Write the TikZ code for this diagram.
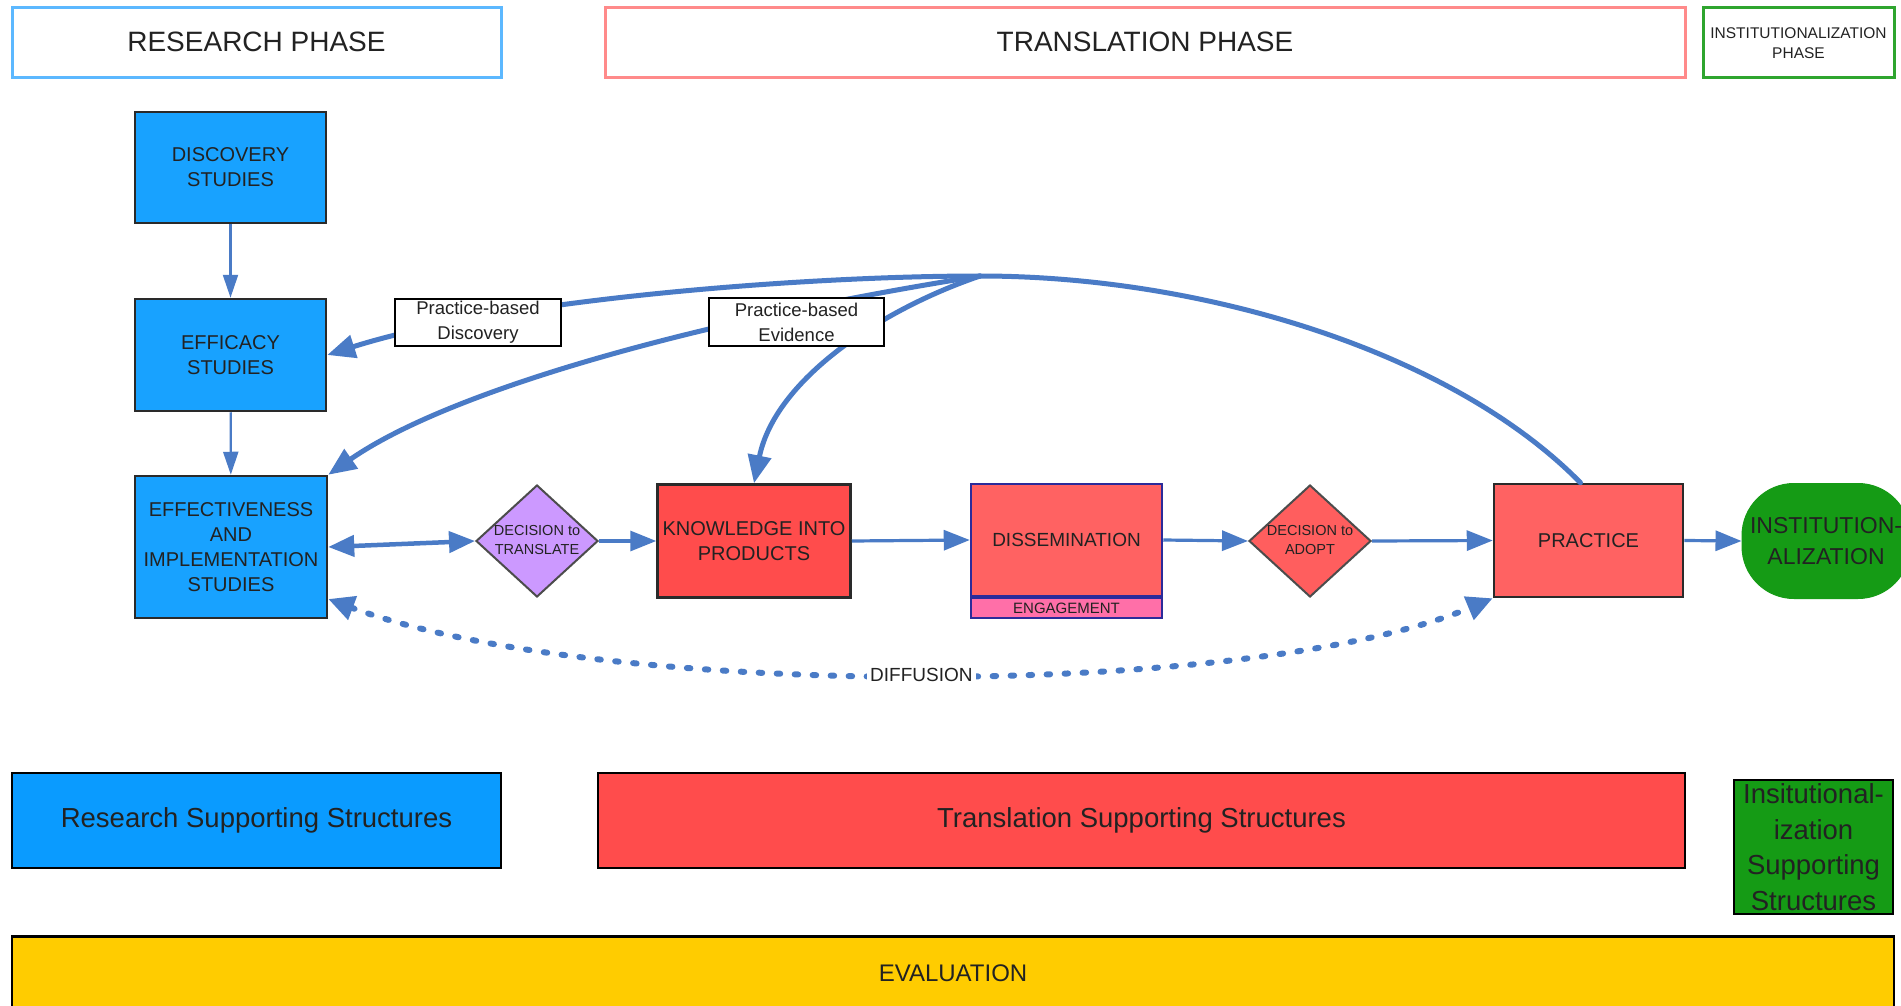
\documentclass[tikz,border=0pt]{standalone}
\usepackage{fontspec}
\setmainfont{Liberation Sans}
\usetikzlibrary{arrows.meta,shapes.geometric,calc}
\definecolor{arrowc}{HTML}{4A7BC6}
\definecolor{procblue}{HTML}{18A2FF}
\definecolor{supblue}{HTML}{0A9BFF}
\definecolor{kred}{HTML}{FF4C4C}
\definecolor{lred}{HTML}{FF6262}
\definecolor{engpink}{HTML}{FF6FA8}
\definecolor{lav}{HTML}{CC99FF}
\definecolor{igreen}{HTML}{159B15}
\definecolor{gold}{HTML}{FFCC00}
\definecolor{hblue}{HTML}{5CB8FF}
\definecolor{hred}{HTML}{FF8A8A}
\definecolor{hgreen}{HTML}{2FA52F}
\definecolor{txt}{HTML}{222222}
\definecolor{edge}{HTML}{2A2A2A}
\definecolor{navy}{HTML}{2B2B9A}
\newcommand\myfs[2]{\fontsize{#1}{#2}\selectfont}
\begin{document}
\begin{tikzpicture}[x=1pt,y=-1pt,
 hdr/.style={draw, line width=3pt, fill=white, text=txt, inner sep=0pt, align=center},
 proc/.style={draw=edge, line width=2.5pt, text=txt, inner sep=0pt, align=center, font=\myfs{20}{25}},
 dec/.style={diamond, draw=gray!60!black, line width=2pt, inner sep=0pt, minimum width=122pt, minimum height=112pt, text=txt, font=\myfs{14.5}{19}},
 flow/.style={draw=arrowc, line width=3.2pt, -{Triangle[length=26pt,width=20pt]}},
 thinflow/.style={draw=arrowc, line width=2.2pt, -{Triangle[length=23pt,width=15pt]}},
 bigflow/.style={draw=arrowc, line width=5pt, line cap=round, -{Triangle[length=28pt,width=23pt]}},
 lbl/.style={draw=black, fill=white, line width=2pt, inner sep=0pt, align=center, text=txt, font=\myfs{18.5}{25}},
 sup/.style={draw=black, line width=2.5pt, inner sep=0pt, align=center, text=txt}
]
\fill[white] (0,0) rectangle (1901,1006);
\useasboundingbox (0,0) rectangle (1901,1006);

% phase headers
\node[hdr, draw=hblue, minimum width=489pt, minimum height=70pt, font=\myfs{28}{32}] (hres) at (256.5,43) {\raisebox{3pt}{RESEARCH PHASE}};
\node[hdr, draw=hred, minimum width=1080pt, minimum height=70pt, font=\myfs{28}{32}] (htr) at (1145,43) {\raisebox{3pt}{TRANSLATION PHASE}};
\node[hdr, draw=hgreen, minimum width=191pt, minimum height=70pt, font=\myfs{15.5}{20}] (hins) at (1798.5,43) {INSTITUTIONALIZATION\\PHASE};

% process nodes
\node[proc, fill=procblue, minimum width=191pt, minimum height=111pt] (disc) at (230.5,167.5) {DISCOVERY\\STUDIES};
\node[proc, fill=procblue, minimum width=191pt, minimum height=112pt] (effi) at (230.5,355) {EFFICACY\\STUDIES};
\node[proc, fill=procblue, minimum width=192pt, minimum height=142pt] (effe) at (231,547) {EFFECTIVENESS\\AND\\IMPLEMENTATION\\STUDIES};
\node[dec, fill=lav] (dtr) at (537,541) {\makebox[0pt]{\begin{tabular}{@{}c@{}}DECISION to\\TRANSLATE\end{tabular}}};
\node[proc, fill=kred, minimum width=193pt, minimum height=113pt] (kip) at (754,541) {KNOWLEDGE INTO\\PRODUCTS};
\node[proc, draw=navy, fill=lred, minimum width=191pt, minimum height=112pt, font=\myfs{19}{25}] (diss) at (1066.5,540) {DISSEMINATION};
\node[draw=navy, line width=2pt, fill=engpink, minimum width=191pt, minimum height=20pt, inner sep=0pt, text=txt, font=\myfs{15}{18}, anchor=north] (eng) at (diss.south) {ENGAGEMENT};
\node[dec, fill=kred!90!white] (dad) at (1310,541) {\makebox[0pt]{\begin{tabular}{@{}c@{}}DECISION to\\ADOPT\end{tabular}}};
\node[proc, fill=lred, minimum width=189pt, minimum height=113pt] (prac) at (1588.5,540.5) {PRACTICE};
\node[fill=igreen, draw=igreen, line width=1pt, rounded corners=52pt, minimum width=168pt, minimum height=115pt, inner sep=0pt, align=center, text=txt, font=\myfs{23}{31}] (inst) at (1826,541) {INSTITUTION-\\ALIZATION};

% straight connectors
\draw[thinflow] (disc) -- (effi);
\draw[thinflow] (effi) -- (effe);
\draw[draw=arrowc, line width=4.5pt, {Triangle[length=26pt,width=21pt]}-{Triangle[length=26pt,width=21pt]}] (effe.east) -- (dtr.west);
\draw[flow] (dtr.east) -- (kip.west);
\draw[flow] (kip.east) -- (diss.west);
\draw[flow] (diss.east) -- (dad.west);
\draw[flow] (dad.east) -- (prac.west);
\draw[flow] (prac.east) -- (inst.west);

% feedback curves
\coordinate (M) at (980,276);
\draw[draw=arrowc, line width=5pt, line cap=round] ([xshift=-8pt]prac.north) .. controls (1450,350) and (1200,276) .. (M);
\draw[bigflow] (M) .. controls (800,276) and (500,300) .. (effi.east);
\draw[bigflow] (M) .. controls (700,320) and (450,390) .. (effe.north east);
\draw[bigflow] (M) .. controls (880,310) and (775,380) .. (kip.north);

% labels on curves
\node[lbl, minimum width=166pt, minimum height=47pt] (pbd) at (478,322.5) {Practice-based\\Discovery};
\node[lbl, minimum width=175pt, minimum height=48pt] (pbe) at (796.5,322) {Practice-based\\Evidence};

% diffusion
\draw[draw=arrowc, line width=6pt, line cap=round, dash pattern=on 3.5pt off 14.5pt, {Triangle[length=26pt,width=24pt]}-{Triangle[length=26pt,width=24pt]}] ([yshift=-52pt]effe.east) .. controls (600,700) and (1250,700) .. (prac.south west) node[pos=0.5, fill=white, inner sep=3pt, text=txt, font=\myfs{19}{22}] (dif) {DIFFUSION};

% supporting structures
\node[sup, fill=supblue, minimum width=489pt, minimum height=95pt, font=\myfs{27.5}{32}] (rss) at (256.5,820.5) {Research Supporting Structures};
\node[sup, fill=kred, minimum width=1087pt, minimum height=95pt, font=\myfs{27.5}{32}] (tss) at (1141.5,820.5) {Translation Supporting Structures};
\node[sup, fill=igreen, minimum width=159pt, minimum height=134pt, font=\myfs{27.5}{35.5}] (iss) at (1813.5,847) {Insitutional-\\ization\\Supporting\\Structures};
\node[sup, fill=gold, minimum width=1882pt, minimum height=80pt, anchor=north, font=\myfs{24}{28}] (eval) at (953,935) {\raisebox{6pt}{EVALUATION}};
\end{tikzpicture}
\end{document}
